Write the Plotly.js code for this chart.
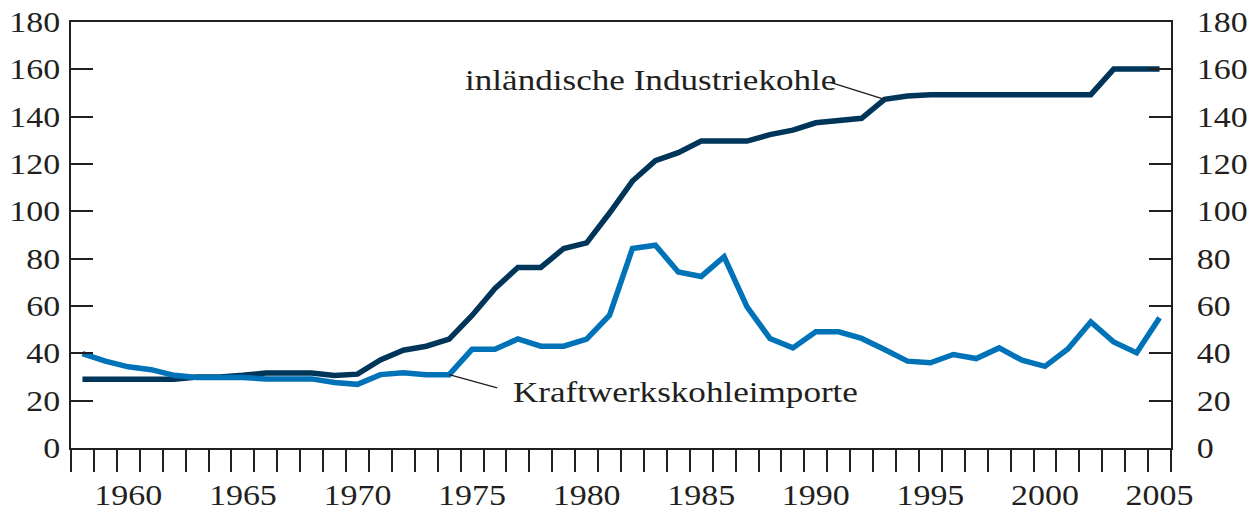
<!DOCTYPE html>
<html>
<head>
<meta charset="utf-8">
<script src="https://cdn.plot.ly/plotly-3.0.1.min.js"></script>
<style>
  html, body { margin: 0; padding: 0; background: #ffffff; }
  #chart { width: 1256px; height: 511px; }
</style>
</head>
<body>
<div id="chart"></div>
<script>
// ---- Data ----
const years = [1958,1959,1960,1961,1962,1963,1964,1965,1966,1967,1968,1969,1970,
  1971,1972,1973,1974,1975,1976,1977,1978,1979,1980,1981,1982,1983,1984,1985,
  1986,1987,1988,1989,1990,1991,1992,1993,1994,1995,1996,1997,1998,1999,2000,
  2001,2002,2003,2004,2005];

const industriekohle = [29,29,29,29,29,30,30,30.7,31.7,31.7,31.7,30.6,31.2,
  37.2,41.3,43,46,56,67.4,76.3,76.3,84.3,86.7,99.3,112.8,121.4,124.8,129.7,
  129.7,129.7,132.4,134.3,137.4,138.3,139.3,147.3,148.7,149.3,149.3,149.3,149.3,149.3,149.3,
  149.3,149.3,160.1,160.1,160.1];

const kraftwerkskohle = [39.9,36.7,34.3,33.1,30.7,29.8,29.8,29.8,29.2,29.2,29.2,27.7,26.9,
  31,31.8,31,31,41.7,41.7,46.1,43,43,46,56.1,84.3,85.7,74.4,72.5,
  80.8,59.6,46.3,42.3,49.1,49.1,46.3,41.6,36.7,36,39.5,37.8,42.3,37.1,34.5,
  41.8,53.3,44.8,40.2,55];

const yearLabels = ["1960","1965","1970","1975","1980","1985","1990","1995","2000","2005"];
const yTicks = [0,20,40,60,80,100,120,140,160,180];

const labelIndustrie = "inländische Industriekohle";
const labelKraftwerk = "Kraftwerkskohleimporte";

// ---- Styling ----
const darkBlue = "#00355a";
const lightBlue = "#0073b8";
const ink = "#231f20";
const serif = "Liberation Serif, Times New Roman, serif";

// tick boundaries between years
const boundaries = [];
for (let i = 0; i <= years.length; i++) boundaries.push(years[0] - 0.5 + i);
const labelVals = yearLabels.map(Number);

const traces = [
  { x: years, y: industriekohle, type: "scatter", mode: "lines",
    line: { color: darkBlue, width: 5.5 }, hoverinfo: "skip" },
  { x: years, y: kraftwerkskohle, type: "scatter", mode: "lines",
    line: { color: lightBlue, width: 5.5 }, hoverinfo: "skip" },
  // invisible carrier so the label axes (bottom years, right values) are drawn
  { x: years, y: industriekohle, xaxis: "x2", yaxis: "y2", type: "scatter", mode: "lines",
    line: { color: "rgba(0,0,0,0)", width: 0 }, hoverinfo: "skip" }
];

const xRange = [years[0] - 0.5, years[years.length - 1] + 0.5];

const iInd = years.indexOf(1993);
const iKra = years.indexOf(1974);

const layout = {
  width: 1256, height: 511,
  margin: { l: 71, r: 85, t: 22, b: 63, pad: 0 },
  paper_bgcolor: "#ffffff", plot_bgcolor: "#ffffff",
  showlegend: false,
  font: { family: serif, color: ink, size: 29 },
  xaxis: {
    range: xRange, tickmode: "array", tickvals: boundaries,
    showticklabels: false, ticks: "outside", ticklen: 22, tickwidth: 2, tickcolor: ink,
    showline: true, linecolor: ink, linewidth: 2, mirror: true,
    showgrid: false, zeroline: false, fixedrange: true
  },
  xaxis2: {
    overlaying: "x", anchor: "y", side: "bottom", range: xRange,
    tickmode: "array", tickvals: labelVals, ticktext: yearLabels,
    ticks: "", showline: false, showgrid: false, zeroline: false,
    tickfont: { family: serif, size: 29, color: ink }, ticklabelstandoff: 27,
    fixedrange: true
  },
  yaxis: {
    range: [0, 180], tickmode: "array", tickvals: yTicks,
    ticks: "inside", ticklen: 22, tickwidth: 2, tickcolor: ink,
    showline: true, linecolor: ink, linewidth: 2,
    showgrid: false, zeroline: false,
    tickfont: { family: serif, size: 29, color: ink }, ticklabelstandoff: 3,
    fixedrange: true
  },
  yaxis2: {
    overlaying: "y", side: "right", anchor: "x", range: [0, 180],
    tickmode: "array", tickvals: yTicks,
    ticks: "inside", ticklen: 22, tickwidth: 2, tickcolor: ink,
    showline: true, linecolor: ink, linewidth: 2,
    showgrid: false, zeroline: false,
    tickfont: { family: serif, size: 29, color: ink }, ticklabelstandoff: 18,
    fixedrange: true
  },
  shapes: [
    { type: "line", xref: "x", yref: "y", layer: "above",
      x0: years[iInd], y0: industriekohle[iInd], x1: 1990.6, y1: 154.6,
      line: { color: ink, width: 1.5 } },
    { type: "line", xref: "x", yref: "y", layer: "above",
      x0: years[iKra], y0: kraftwerkskohle[iKra], x1: 1976.1, y1: 25.4,
      line: { color: ink, width: 1.5 } }
  ],
  annotations: [
    { text: labelIndustrie, xref: "x", yref: "y", x: 1982.8, y: 155.9,
      xanchor: "center", yanchor: "middle", showarrow: false,
      font: { family: serif, size: 30, color: ink } },
    { text: labelKraftwerk, xref: "x", yref: "y", x: 1984.3, y: 23.7,
      xanchor: "center", yanchor: "middle", showarrow: false,
      font: { family: serif, size: 30, color: ink } }
  ]
};

Plotly.newPlot("chart", traces, layout, { displayModeBar: false, staticPlot: true }).then(function () {
  // widen the serif glyphs a little, like the reference typeface
  const sel = ".xtick text, .x2tick text, .ytick text, .y2tick text, .annotation-text";
  document.querySelectorAll(sel).forEach(function (t) {
    const L = t.getComputedTextLength();
    if (L > 0) {
      t.setAttribute("textLength", (L * 1.17).toFixed(1));
      t.setAttribute("lengthAdjust", "spacingAndGlyphs");
    }
  });
});
</script>
</body>
</html>
